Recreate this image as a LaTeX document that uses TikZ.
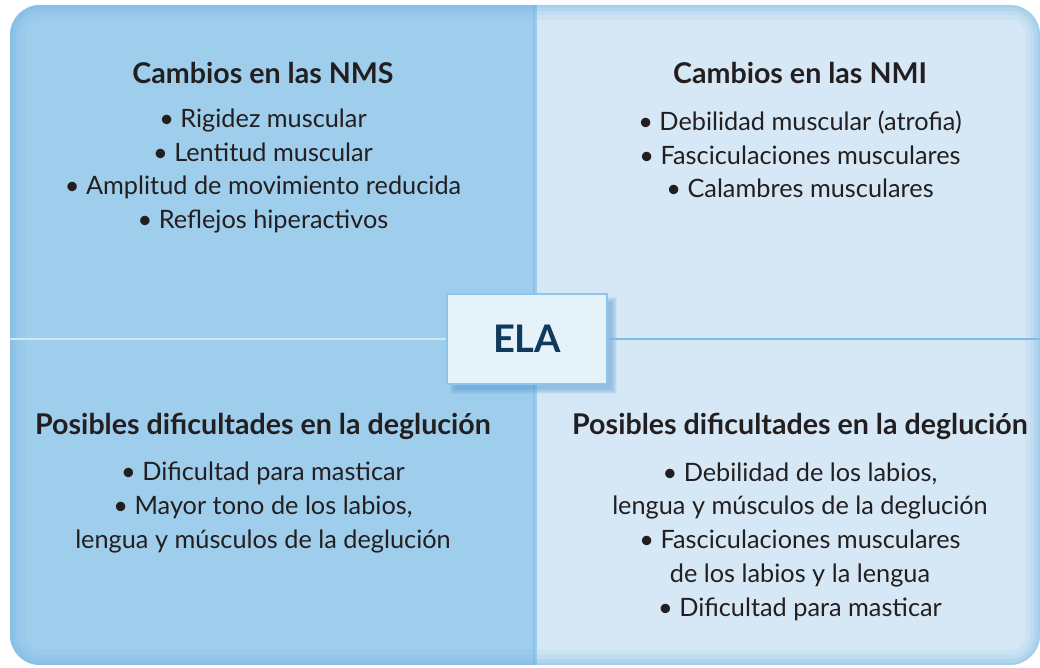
\documentclass[tikz,border=0pt]{standalone}
\usepackage{fontspec}
\setmainfont{Lato}
\usepackage{tikz}
\usetikzlibrary{calc}

\definecolor{leftblue}{HTML}{9FCDEC}
\definecolor{rightblue}{HTML}{D6E8F6}
\definecolor{edgeblue}{HTML}{6FB2E2}
\definecolor{linelight}{HTML}{D2E7F6}
\definecolor{linedark}{HTML}{7DBCE8}
\definecolor{boxfill}{HTML}{E6F2FA}
\definecolor{boxline}{HTML}{8CC6EC}
\definecolor{shadowblue}{HTML}{4F97D4}
\definecolor{inktext}{HTML}{231F20}
\definecolor{elatext}{HTML}{0F3A5B}

\pgfdeclarelayer{back}
\pgfdeclarelayer{shade}
\pgfsetlayers{back,shade,main}

\tikzset{
  heading/.style={text=inktext, font=\fontsize{28.6}{32}\selectfont\bfseries, inner sep=0pt},
  itemlist/.style={text=inktext, align=center, font=\fontsize{25.3}{33.7}\selectfont, inner sep=0pt},
  elabox/.style={draw=boxline, line width=2pt, fill=boxfill, minimum width=160pt, minimum height=90pt,
    text=elatext, font=\fontsize{38}{42}\selectfont\bfseries}
}

\begin{document}
\begin{tikzpicture}[x=1pt, y=-1pt]
            \useasboundingbox (0,0) rectangle (1040,668);
            \begin{pgfonlayer}{back}
            \begin{scope}
                \clip[rounded corners=30] (10,5) rectangle (1040,665);
                \fill[leftblue] (10,5) rectangle (535,665);
                \fill[rightblue] (535,5) rectangle (1040,665);
                \fill[linedark, opacity=0.6] (533,5) rectangle (537,665);
                \foreach \w/\o in {30/0.1, 20/0.12, 12/0.16, 5/0.2}
                    \draw[edgeblue, line width=\w, opacity=\o, rounded corners=30] (10,5) rectangle (1040,665);
            \end{scope}
            \end{pgfonlayer}

            % ELA in the middle
            \node[elabox] (ela) at (527,339) {ELA};
            \begin{pgfonlayer}{shade}
            \foreach \s in {0,...,5}
                \fill[shadowblue, opacity=0.1] ([shift={(9-\s,9-\s)}]ela.north west) rectangle ([shift={(4+\s,4+\s)}]ela.south east);
            \end{pgfonlayer}
            \coordinate (leftend) at (10,339);
            \coordinate (rightend) at (1040,339);
            \begin{pgfonlayer}{shade}
            \draw[linelight, line width=2.5pt] (leftend) -- (ela.west);
            \draw[linedark, line width=2.5pt] (ela.east) -- (rightend);
            \end{pgfonlayer}

            % upper half
            \node[heading] (nmsTitle) at (263,73) {Cambios en las NMS};
            \node[itemlist] (nmsList) at (263,171) {\textbullet\ Rigidez muscular\\
                \textbullet\ Lentitud muscular\\
                \textbullet\ Amplitud de movimiento reducida\\
                \textbullet\ Reflejos hiperactivos};
            \node[heading] (nmiTitle) at (800,73) {Cambios en las NMI};
            \node[itemlist] (nmiList) at (800,154.5) {\textbullet\ Debilidad muscular (atrofia)\\
                \textbullet\ Fasciculaciones musculares\\
                \textbullet\ Calambres musculares};

            % lower half
            \node[heading] (nmsSwallow) at (263,426) {Posibles dificultades en la deglución};
            \node[itemlist] (nmsSwallowList) at (263,507.5) {\textbullet\ Dificultad para masticar\\
                \textbullet\ Mayor tono de los labios,\\
                lengua y músculos de la deglución};
            \node[heading] (nmiSwallow) at (800,426) {Posibles dificultades en la deglución};
            \node[itemlist] (nmiSwallowList) at (800,541.5) {\textbullet\ Debilidad de los labios,\\
                lengua y músculos de la deglución\\
                \textbullet\ Fasciculaciones musculares\\
                de los labios y la lengua\\
                \textbullet\ Dificultad para masticar};
        \end{tikzpicture}
\end{document}
